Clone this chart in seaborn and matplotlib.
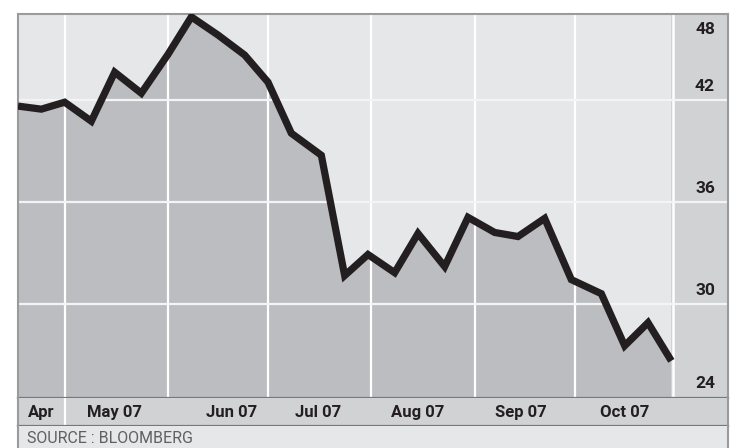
import matplotlib
matplotlib.use("Agg")
import matplotlib.pyplot as plt
import matplotlib.transforms as mtransforms
import seaborn as sns
import pandas as pd
import numpy as np

# ---- data ----
dates = ["2007-04-17", "2007-04-24", "2007-05-01", "2007-05-09", "2007-05-16",
         "2007-05-24", "2007-06-01", "2007-06-08", "2007-06-16", "2007-06-24",
         "2007-07-01", "2007-07-08", "2007-07-17", "2007-07-24", "2007-07-31",
         "2007-08-08", "2007-08-15", "2007-08-23", "2007-08-30", "2007-09-07",
         "2007-09-14", "2007-09-22", "2007-09-30", "2007-10-09", "2007-10-16",
         "2007-10-23", "2007-10-30"]
prices = [41.65, 41.47, 41.88, 40.76, 43.65, 42.41, 44.70, 46.91, 45.84, 44.66,
          43.06, 40.05, 38.75, 31.66, 32.90, 31.83, 34.14, 32.19, 35.09, 34.20,
          33.96, 35.03, 31.42, 30.59, 27.52, 28.88, 26.63]

month_starts = ["2007-05-01", "2007-06-01", "2007-07-01", "2007-08-01",
                "2007-09-01", "2007-10-01"]
month_labels = ["Apr", "May 07", "Jun 07", "Jul 07", "Aug 07", "Sep 07", "Oct 07"]
month_label_dates = ["2007-04-24", "2007-05-16", "2007-06-20", "2007-07-16",
                     "2007-08-15", "2007-09-15", "2007-10-16"]
y_grid = [30, 36, 42]
y_labels = [48, 42, 36, 30, 24]
source_text = "SOURCE : BLOOMBERG"

# ---- styling ----
sns.set_theme(style="white")
plt.rcParams['font.family'] = ['Liberation Sans Narrow', 'Roboto', 'DejaVu Sans']

W, H = 740, 448
fig = plt.figure(figsize=(W / 100, H / 100), dpi=100)
fig.patch.set_facecolor("white")

df = pd.DataFrame({"date": pd.to_datetime(dates), "price": prices})
x0 = df["date"].iloc[0]
x_last = df["date"].iloc[-1]
x_end = pd.Timestamp("2007-11-16")
y0, y1 = 24.44, 47.08

# main plot
ax = fig.add_axes([18 / W, (H - 398) / H, (728 - 18) / W, (398 - 14) / H])
ax.set_facecolor("#e6e7e8")
ax.set_xlim(x0, x_end)
ax.set_ylim(y0, y1)
ax.fill_between(df["date"], df["price"], y0, color="#bcbdc0", lw=0, zorder=1)
ax.axvspan(x_last, x_end, color="#d1d2d4", lw=0, zorder=1)
for m in month_starts:
    ax.axvline(pd.Timestamp(m), color="white", lw=1.6, zorder=2)
ax.axvline(x_last + pd.Timedelta(days=0.4), color="white", lw=1.8, zorder=2)
for g in y_grid:
    ax.axhline(g, color="#f4f4f5", lw=1.6, zorder=2)
sns.lineplot(data=df, x="date", y="price", ax=ax, color="#231f20", lw=5.2,
             zorder=3, legend=False)
for ln in ax.lines[-1:]:
    ln.set_solid_joinstyle("miter")
    ln.set_solid_capstyle("butt")
ax.set_xticks([])
ax.set_yticks([])
ax.set_xlabel("")
ax.set_ylabel("")
for s in ["top", "left", "right"]:
    ax.spines[s].set_color("#9a9b9d")
    ax.spines[s].set_linewidth(1.5)
ax.spines["bottom"].set_color("#77787a")
ax.spines["bottom"].set_linewidth(1.6)

blend = mtransforms.blended_transform_factory(ax.transAxes, ax.transData)
xlab = (705 - 18) / (728 - 18)
for v in y_labels:
    yy = float(np.clip(v + 0.8, y0 + 0.83, y1 - 0.9))
    ax.text(xlab, yy, str(v), transform=blend, ha="center", va="center",
            fontsize=12.5, color="#231f20", fontweight="bold", zorder=5)

# month band
axb = fig.add_axes([18 / W, (H - 426) / H, (728 - 18) / W, (426 - 398) / H])
axb.set_facecolor("#d1d2d4")
axb.set_xlim(x0, x_end)
axb.set_ylim(0, 1)
axb.axvline(pd.Timestamp(month_starts[0]), color="white", lw=1.6)
for lab, d in zip(month_labels, month_label_dates):
    axb.text(pd.Timestamp(d), 0.47, lab, ha="center", va="center",
             fontsize=12, color="#231f20", fontweight="bold")
axb.set_xticks([])
axb.set_yticks([])
for s in ["left", "right"]:
    axb.spines[s].set_color("#9a9b9d")
    axb.spines[s].set_linewidth(1.5)
axb.spines["top"].set_visible(False)
axb.spines["bottom"].set_color("#77787a")
axb.spines["bottom"].set_linewidth(1.6)

# source band
axs = fig.add_axes([18 / W, 0, (728 - 18) / W, (448 - 426) / H])
axs.set_facecolor("#e6e7e8")
axs.set_xlim(0, 1)
axs.set_ylim(0, 1)
axs.set_xticks([])
axs.set_yticks([])
for s in ["left", "right"]:
    axs.spines[s].set_color("#9a9b9d")
    axs.spines[s].set_linewidth(1.5)
axs.spines["top"].set_visible(False)
axs.spines["bottom"].set_visible(False)
axs.text((27 - 18) / (728 - 18), 0.45, source_text, ha="left", va="center",
         fontsize=11.5, color="#5f6062")

fig.savefig("out.png", dpi=100)
